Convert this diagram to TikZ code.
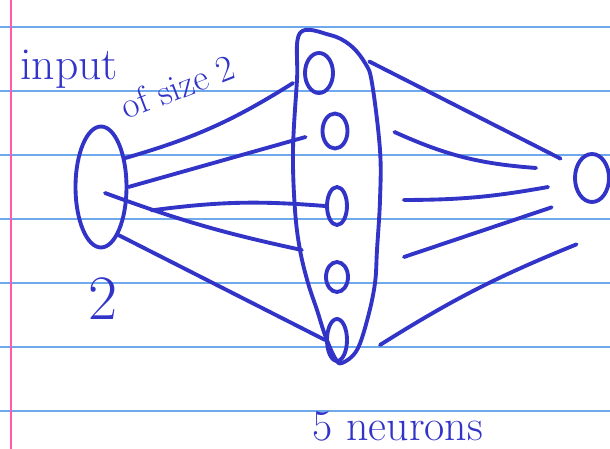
\documentclass[tikz,border=0pt]{standalone}
\usepackage{fontspec}
\usepackage{tikz}
\usetikzlibrary{shapes.geometric}
\definecolor{ink}{RGB}{50,52,200}
\definecolor{ruling}{RGB}{110,170,235}
\definecolor{marginline}{RGB}{255,90,170}

\begin{document}
\begin{tikzpicture}[x=0.02cm, y=-0.02cm, line cap=round, line join=round,
		pen/.style={draw=ink, line width=2.2pt},
		unit/.style={ellipse, pen, inner sep=0pt},
		scribble/.style={text=ink, inner sep=0pt}]
			\useasboundingbox[fill=white] (0,0) rectangle (610,449);
			% ruled paper
			\foreach \y in {27,91,155,219,283,347,411}
				\draw[ruling, line width=1pt] (0,\y) -- (610,\y);
			\draw[marginline, line width=1pt] (11,0) -- (11,449);
			
			% layers
			\node[unit, minimum width=1.02cm, minimum height=2.42cm] (inp) at (101,187) {};
			\foreach \n/\x/\y/\w/\h in {n1/319/73/0.56/0.8, n2/335/131/0.5/0.7, n3/337/206/0.4/0.76, n4/337/277/0.44/0.6, n5/337/340/0.4/0.84} {
				\node[unit, minimum width=\w cm, minimum height=\h cm] (\n) at (\x,\y) {};
			}
			\node[unit, minimum width=0.68cm, minimum height=0.96cm] (out) at (592,178) {};
			\draw[pen] plot[smooth cycle, tension=0.6] coordinates {(300,33) (330,35) (350,45) (365,63) (372,83) (380,150) (380,200) (377,250) (375,283) (368,317) (357,350) (342,363) (335,358) (325,335) (317,310) (308,283) (300,250) (295,210) (293,150) (297,80)};
			
			% input -> hidden
			\draw[pen] (inp.50) to[bend right=8] ([shift={(-10,10)}]n1.west);
			\draw[pen] (inp.east) -- ([shift={(-15,6)}]n2.west);
			\draw[pen] ([shift={(24,8)}]inp.-30) to[bend left=6] (n3.west);
			\draw[pen] ([shift={(4,6)}]inp.center) to[bend right=4] ([shift={(-26,-15)}]n4.north west);
			\draw[pen] (inp.-70) -- (n5.west);
			
			% hidden -> output
			\draw[pen] ([shift={(39,4)}]n1.north east) -- ([shift={(-18,-1)}]out.north west);
			\draw[pen] ([shift={(45,1)}]n2.east) to[bend right=10] ([shift={(-37,-10)}]out.west);
			\draw[pen] ([shift={(55,-6)}]n3.east) to[bend right=5] ([shift={(-25,9)}]out.west);
			\draw[pen] ([shift={(54,-20)}]n4.east) -- ([shift={(-27,11)}]out.south west);
			\draw[pen] ([shift={(31,5)}]n5.east) to[bend left=5] ([shift={(-2,48)}]out.south west);
			
			% labels
			\node[scribble, font=\fontsize{26}{28}\selectfont, anchor=base west] (ttl) at (20,80) {input};
			\node[scribble, font=\fontsize{21}{23}\selectfont, anchor=base west, rotate=21] (sz) at (126,120) {of size 2};
			\node[scribble, font=\fontsize{36}{38}\selectfont] (cnt) at (103,299) {2};
			\node[scribble, font=\fontsize{25}{27}\selectfont, anchor=base] (lbl) at (398,441) {5 neurons};
		\end{tikzpicture}
\end{document}
